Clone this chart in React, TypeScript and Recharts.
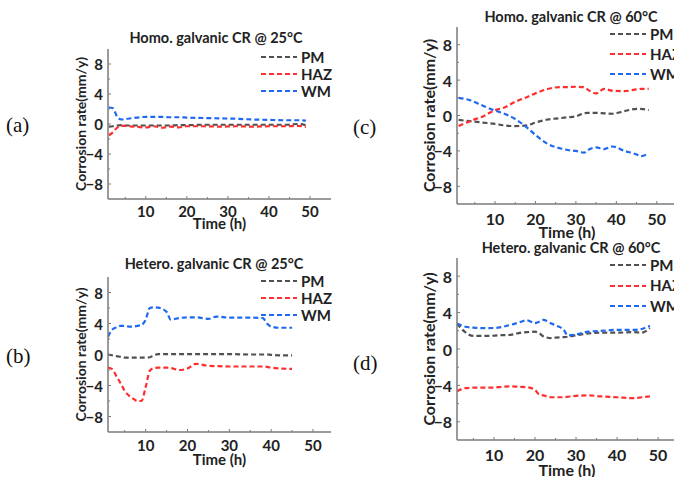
import React from "react";
import { LineChart, Line, XAxis, YAxis, Legend } from "recharts";

const seriesNames = ["PM", "HAZ", "WM"];
const seriesColors = ["#505050", "#ff2e2e", "#1f68f0"];

// (a) Homo. galvanic CR @ 25°C
const timeA = [1, 2, 3, 4, 5, 7, 10, 12, 14, 16, 18, 20, 24, 28, 32, 36, 40, 44, 47, 49];
const pmA = [-0.35, -0.3, -0.2, -0.15, -0.2, -0.2, -0.2, -0.2, -0.2, -0.2, -0.15, -0.15, -0.1, -0.1, -0.1, -0.1, -0.1, -0.1, 0.0, -0.15];
const hazA = [-1.5, -1.1, -0.5, -0.25, -0.25, -0.35, -0.45, -0.3, -0.5, -0.35, -0.45, -0.3, -0.3, -0.35, -0.3, -0.35, -0.3, -0.3, -0.25, -0.4];
const wmA = [2.2, 2.1, 1.0, 0.6, 0.65, 0.8, 0.95, 0.95, 0.95, 0.9, 0.9, 0.85, 0.8, 0.75, 0.7, 0.6, 0.55, 0.5, 0.5, 0.45];

// (b) Hetero. galvanic CR @ 25°C
const timeB = [1, 2, 3, 4, 5, 6, 7, 8, 9, 10, 11, 12, 13, 15, 16, 18, 20, 22, 25, 27, 30, 35, 38, 39, 40, 42, 45];
const pmB = [0, -0.1, -0.2, -0.3, -0.4, -0.4, -0.4, -0.4, -0.4, -0.4, -0.35, -0.1, 0.05, 0.05, 0.05, 0.05, 0.05, 0.05, 0.05, 0.05, 0.05, 0, 0, 0, -0.05, -0.1, -0.1];
const hazB = [-1.7, -1.9, -2.8, -3.7, -4.7, -5.3, -5.7, -6.0, -6.0, -4.2, -2.1, -1.75, -1.7, -1.7, -1.75, -2.0, -1.8, -1.2, -1.45, -1.5, -1.55, -1.55, -1.55, -1.6, -1.7, -1.8, -1.85];
const wmB = [2.3, 3.2, 3.5, 3.7, 3.7, 3.6, 3.6, 3.7, 3.8, 4.5, 6.0, 6.1, 6.05, 5.5, 4.5, 4.7, 4.8, 4.8, 4.6, 4.9, 4.75, 4.75, 4.7, 4.0, 3.6, 3.45, 3.45];

// (c) Homo. galvanic CR @ 60°C
const timeC = [1, 4, 7, 10, 12, 15, 18, 20, 23, 26, 28, 30, 32, 33, 35, 37, 39, 42, 45, 46, 48];
const pmC = [-0.5, -0.65, -0.8, -0.95, -1.1, -1.2, -1.1, -0.8, -0.45, -0.3, -0.2, -0.1, 0.25, 0.3, 0.3, 0.25, 0.2, 0.5, 0.75, 0.75, 0.6];
const hazC = [-1.2, -0.6, -0.1, 0.6, 0.85, 1.55, 2.1, 2.5, 3.0, 3.2, 3.2, 3.25, 3.2, 2.9, 2.5, 3.0, 2.8, 2.75, 2.95, 3.0, 3.0];
const wmC = [2.0, 1.7, 1.1, 0.55, 0.25, -0.4, -1.4, -2.2, -3.2, -3.7, -3.9, -4.0, -4.2, -3.9, -3.6, -3.8, -3.5, -4.0, -4.4, -4.6, -4.3];

// (d) Hetero. galvanic CR @ 60°C
const timeD = [1, 3, 5, 7, 9, 11, 14, 16, 18, 20, 21, 22, 24, 25, 27, 28, 30, 33, 36, 40, 44, 46, 48];
const pmD = [2.8, 1.85, 1.45, 1.45, 1.45, 1.5, 1.55, 1.75, 1.85, 1.9, 1.75, 1.4, 1.2, 1.25, 1.3, 1.35, 1.5, 1.7, 1.8, 1.8, 1.85, 1.8, 2.3];
const hazD = [-4.65, -4.3, -4.25, -4.25, -4.25, -4.2, -4.1, -4.15, -4.2, -4.5, -5.0, -5.1, -5.3, -5.3, -5.3, -5.25, -5.15, -5.1, -5.2, -5.3, -5.4, -5.3, -5.2];
const wmD = [2.8, 2.45, 2.35, 2.3, 2.3, 2.35, 2.65, 2.9, 3.15, 2.85, 3.0, 3.2, 2.8, 2.6, 2.1, 1.5, 1.6, 1.9, 2.0, 2.1, 2.1, 2.2, 2.55];

const xTicks = [5, 10, 15, 20, 25, 30, 35, 40, 45, 50];
const yTicks = [-8, -6, -4, -2, 0, 2, 4, 6, 8];

const FONT = "Lato, 'Open Sans', sans-serif";
const axisColor = "#7a7a7a";
const frameColor = "#c4c4c4";

const makeRows = (time: number[], pm: number[], haz: number[], wm: number[]) =>
  time.map((t, i) => ({ t, PM: pm[i], HAZ: haz[i], WM: wm[i] }));

function XTick(props: any) {
  const { x, y, payload, dy, fs } = props;
  const major = payload.value % 10 === 0;
  return (
    <g>
      <line x1={x} x2={x} y1={y} y2={y - (major ? 3 : 2)} stroke={axisColor} />
      {major && (
        <text x={x} y={y + dy} textAnchor="middle" dominantBaseline="central"
          fontFamily={FONT} fontWeight={700} fontSize={fs} fill="#222">
          {payload.value}
        </text>
      )}
    </g>
  );
}

function YTick(props: any) {
  const { x, y, payload, fs } = props;
  const major = payload.value % 4 === 0;
  const v = payload.value;
  return (
    <g>
      <line x1={x} x2={x + (major ? 3 : 2)} y1={y} y2={y} stroke={axisColor} />
      {major && (
        <text x={x - 5} y={y} textAnchor="end" dominantBaseline="central"
          fontFamily={FONT} fontWeight={700} fontSize={fs} fill="#222">
          {v < 0 ? `\u2212${-v}` : v}
        </text>
      )}
    </g>
  );
}

function XTitle(props: any) {
  const { viewBox, dy, fs } = props;
  return (
    <text x={viewBox.x + viewBox.width / 2} y={viewBox.y + dy} textAnchor="middle"
      dominantBaseline="central" fontFamily={FONT} fontWeight={700} fontSize={fs} fill="#222">
      Time (h)
    </text>
  );
}

function YTitle(props: any) {
  const { viewBox, gap, size } = props;
  const cx = viewBox.x + viewBox.width - gap;
  const cy = viewBox.y + viewBox.height / 2;
  return (
    <text x={cx} y={cy} transform={`rotate(-90 ${cx} ${cy})`} textAnchor="middle"
      dominantBaseline="central" fontFamily={FONT} fontWeight={700} fontSize={size} fill="#222">
      Corrosion rate(mm/y)
    </text>
  );
}

function LegendBox(props: any) {
  const { payload, rowGap } = props;
  const items = [...(payload || [])].sort(
    (a: any, b: any) => seriesNames.indexOf(a.value) - seriesNames.indexOf(b.value)
  );
  return (
    <div>
      {items.map((e: any) => (
        <div key={e.value} style={{ display: "flex", alignItems: "center", height: rowGap }}>
          <svg width={38} height={6} style={{ marginRight: 3 }}>
            <line x1={1} x2={37} y1={3} y2={3} stroke={e.color} strokeWidth={2} strokeDasharray="5 3" />
          </svg>
          <span style={{ fontFamily: FONT, fontWeight: 700, fontSize: 15, color: "#222", lineHeight: 1 }}>
            {e.value}
          </span>
        </div>
      ))}
    </div>
  );
}

type Panel = {
  rows: any[];
  title: string;
  tag: string;
  plot: { x: number; y: number; w: number; h: number };
  xDomain: [number, number];
  titleX: number;
  titleY: number;
  tagX: number;
  tagY: number;
  fs: number;
  tickDy: number;
  timeDy: number;
  yGap: number;
  ySize: number;
  legendTop: number;
  rowGap: number;
};

const PADL = 70;
const PADT = 30;
const PADR = 8;
const PADB = 40;

function Chart({ p }: { p: Panel }) {
  const { plot } = p;
  return (
    <>
      <div style={{ position: "absolute", left: p.titleX - 130, top: p.titleY - 8, width: 260, textAlign: "center",
        fontFamily: FONT, fontWeight: 700, fontSize: 14.5, lineHeight: "16px", color: "#222" }}>
        {p.title}
      </div>
      <div style={{ position: "absolute", left: p.tagX, top: p.tagY - 13, fontFamily: "'Liberation Serif', serif",
        fontSize: 21, lineHeight: "26px", color: "#111" }}>
        {p.tag}
      </div>
      <div style={{ position: "absolute", left: plot.x - PADL, top: plot.y - PADT }}>
        <LineChart width={plot.w + PADL + PADR} height={plot.h + PADT + PADB} data={p.rows}
          margin={{ top: PADT, right: PADR, left: 0, bottom: 0 }}>
          <XAxis dataKey="t" type="number" domain={p.xDomain} ticks={xTicks} interval={0}
            allowDataOverflow height={PADB} tickSize={0} tickMargin={0} tickLine={false}
            axisLine={{ stroke: axisColor, strokeWidth: 1.5 }}
            tick={<XTick dy={p.tickDy} fs={p.fs} />} label={<XTitle dy={p.timeDy} fs={p.fs} />} />
          <XAxis xAxisId="top" orientation="top" dataKey="t" type="number" domain={p.xDomain}
            height={0} tick={false} tickLine={false} axisLine={{ stroke: frameColor }} />
          <YAxis type="number" domain={[-10, 10]} ticks={yTicks} interval={0} allowDataOverflow
            width={PADL} tickSize={0} tickMargin={0} tickLine={false}
            axisLine={{ stroke: axisColor, strokeWidth: 1.5 }}
            tick={<YTick fs={p.fs} />} label={<YTitle gap={p.yGap} size={p.ySize} />} />
          <YAxis yAxisId="right" orientation="right" type="number" domain={[-10, 10]} width={0}
            tick={false} tickLine={false} axisLine={{ stroke: frameColor }} />
          <Legend layout="vertical" align="center" verticalAlign="middle"
            wrapperStyle={{ left: PADL + 152, top: p.legendTop, width: 90 }}
            content={<LegendBox rowGap={p.rowGap} />} />
          {seriesNames.map((name, i) => (
            <Line key={name} dataKey={name} name={name} type="monotone" stroke={seriesColors[i]}
              strokeWidth={2.2} strokeDasharray="5 3" dot={false} isAnimationActive={false} />
          ))}
        </LineChart>
      </div>
    </>
  );
}

const panels: Panel[] = [
  {
    rows: makeRows(timeA, pmA, hazA, wmA), title: "Homo. galvanic CR @ 25°C", tag: "(a)",
    plot: { x: 108, y: 49, w: 223, h: 150 }, xDomain: [0.8, 55.1],
    titleX: 216, titleY: 38, tagX: 6, tagY: 125, fs: 15, tickDy: 11.5, timeDy: 24, yGap: 28, ySize: 14,
    legendTop: PADT - 0.5, rowGap: 17,
  },
  {
    rows: makeRows(timeB, pmB, hazB, wmB), title: "Hetero. galvanic CR @ 25°C", tag: "(b)",
    plot: { x: 108, y: 277, w: 223, h: 155 }, xDomain: [1, 54.3],
    titleX: 214, titleY: 264, tagX: 6, tagY: 356, fs: 15, tickDy: 12.5, timeDy: 26.5, yGap: 28, ySize: 14,
    legendTop: PADT - 4.5, rowGap: 17,
  },
  {
    rows: makeRows(timeC, pmC, hazC, wmC), title: "Homo. galvanic CR @ 60°C", tag: "(c)",
    plot: { x: 457, y: 27, w: 220, h: 177 }, xDomain: [0.6, 55],
    titleX: 571, titleY: 17, tagX: 353, tagY: 127, fs: 16, tickDy: 14.5, timeDy: 27.5, yGap: 29, ySize: 16,
    legendTop: PADT - 3, rowGap: 20,
  },
  {
    rows: makeRows(timeD, pmD, hazD, wmD), title: "Hetero. galvanic CR @ 60°C", tag: "(d)",
    plot: { x: 457, y: 258, w: 220, h: 182 }, xDomain: [1, 54.6],
    titleX: 571, titleY: 248, tagX: 353, tagY: 363, fs: 16, tickDy: 14, timeDy: 29, yGap: 29, ySize: 16,
    legendTop: PADT - 3.25, rowGap: 20.5,
  },
];

export default function App() {
  return (
    <div style={{ position: "absolute", left: 0, top: 0, width: 674, height: 477, overflow: "hidden", background: "#fff" }}>
      {panels.map((p) => (
        <Chart key={p.tag} p={p} />
      ))}
    </div>
  );
}
